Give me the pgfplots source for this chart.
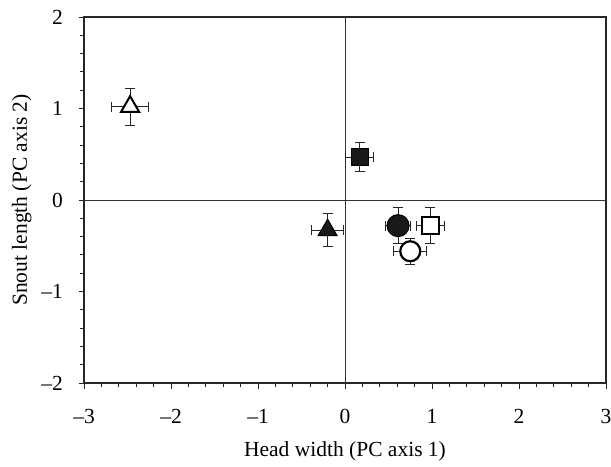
\documentclass[border=0pt]{standalone}
\usepackage{pgfplots}
\pgfplotsset{compat=1.18}
\usepackage{fontspec}
\setmainfont{Liberation Serif}
\begin{document}
\begin{tikzpicture}[font=\fontsize{21.5}{25}\selectfont]
\begin{axis}[
  scale only axis,
  width=522pt, height=366pt,
  xmin=-3, xmax=3, ymin=-2, ymax=2,
  axis line style={line width=1.3pt, black!85},
  xtick={-3,-2,-1,0,1,2,3},
  xticklabels={\textendash3,\textendash2,\textendash1,0,1,2,3},
  ytick={-2,-1,0,1,2},
  yticklabels={\textendash2,\textendash1,0,1,2},
  minor x tick num=4, minor y tick num=4,
  tick align=outside,
  xtick pos=bottom, ytick pos=left,
  major tick length=5.5pt, minor tick length=4pt,
  tick style={line width=0.9pt, black!85},
  every tick label/.append style={font=\fontsize{21.5}{25}\selectfont},
  label style={font=\fontsize{21.5}{25}\selectfont},
  xticklabel style={yshift=-17pt},
  yticklabel style={xshift=-12pt},
  xlabel={Head width (PC axis 1)},
  ylabel={Snout length (PC axis 2)},
  xlabel style={yshift=-11pt},
  ylabel style={yshift=3pt},
  clip=false,
  error bars/error bar style={line width=0.9pt, black!85},
  error bars/error mark options={rotate=90, mark size=5pt, line width=0.9pt, black!85},
]
\coordinate (sw) at (rel axis cs:0,0);
\coordinate (ne) at (rel axis cs:1,1);
\draw[line width=0.8pt, black!80] (axis cs:0,-2) -- (axis cs:0,2);
\draw[line width=0.8pt, black!80] (axis cs:-3,0) -- (axis cs:3,0);
% open triangle
\addplot[only marks, mark=triangle*, mark size=10.5pt, mark options={fill=white, draw=black, line width=2pt},
  error bars/.cd, x dir=both, x explicit, y dir=both, y explicit]
  coordinates {(-2.47,1.02) +- (0.21,0.2)};
% filled square
\addplot[only marks, mark=square*, mark size=8.5pt, mark options={fill=black!90, draw=black, line width=1pt},
  error bars/.cd, x dir=both, x explicit, y dir=both, y explicit]
  coordinates {(0.17,0.47) +- (0.16,0.16)};
% filled triangle
\addplot[only marks, mark=triangle*, mark size=11pt, mark options={fill=black!90, draw=black, line width=1pt},
  error bars/.cd, x dir=both, x explicit, y dir=both, y explicit]
  coordinates {(-0.2,-0.33) +- (0.18,0.18)};
% filled circle
\addplot[only marks, mark=*, mark size=11pt, mark options={fill=black!90, draw=black, line width=1pt},
  error bars/.cd, x dir=both, x explicit, y dir=both, y explicit]
  coordinates {(0.61,-0.28) +- (0.14,0.2)};
% open square
\addplot[only marks, mark=square*, mark size=8.5pt, mark options={fill=white, draw=black, line width=2pt},
  error bars/.cd, x dir=both, x explicit, y dir=both, y explicit]
  coordinates {(0.98,-0.28) +- (0.16,0.2)};
% open circle
\addplot[only marks, mark=*, mark size=10pt, mark options={fill=white, draw=black, line width=2.2pt},
  error bars/.cd, x dir=both, x explicit, y dir=both, y explicit]
  coordinates {(0.75,-0.56) +- (0.19,0.14)};
\end{axis}
\pgfresetboundingbox
\path ([shift={(-84pt,-83pt)}]sw) rectangle ([shift={(5pt,17pt)}]ne);
\end{tikzpicture}
\end{document}
